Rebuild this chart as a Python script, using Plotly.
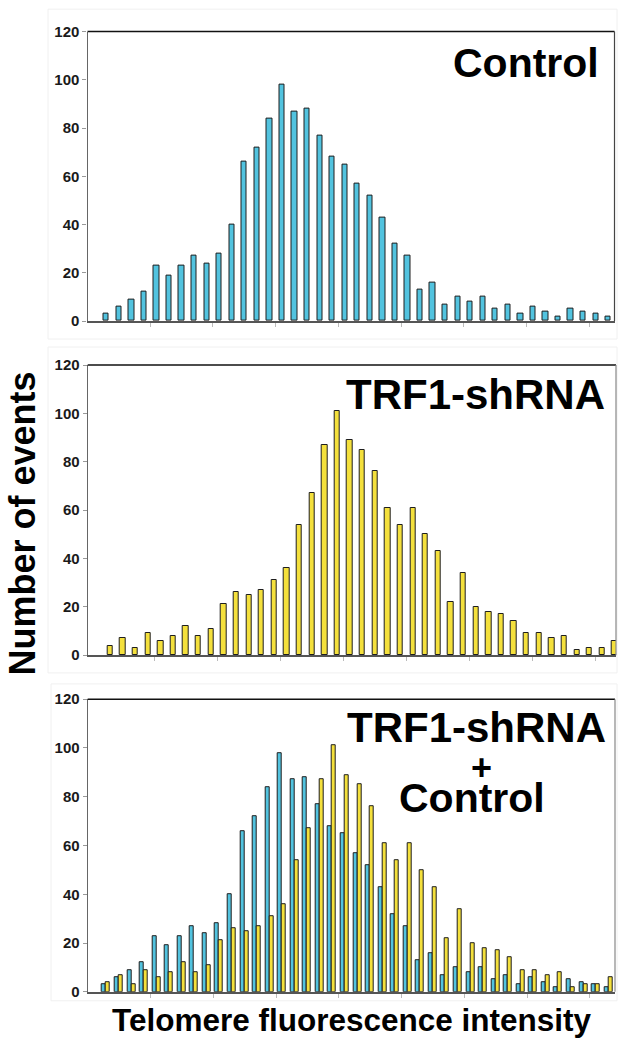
import plotly.graph_objects as go

# ---- data ----
bins = list(range(1, 42))
control = [3, 6, 9, 12, 23, 19, 23, 27, 24, 28, 40, 66, 72, 84, 98, 87, 88, 77, 68, 65,
           57, 52, 43, 32, 27, 13, 16, 7, 10, 8, 10, 5, 7, 3, 6, 4, 2, 5, 4, 3, 2]
trf1 = [4, 7, 3, 9, 6, 8, 12, 8, 11, 21, 26, 25, 27, 31, 36, 54, 67, 87, 101, 89,
        85, 76, 61, 54, 61, 50, 43, 22, 34, 20, 18, 17, 14, 9, 9, 7, 8, 2, 3, 3, 6]
y_ticks = [0, 20, 40, 60, 80, 100, 120]
x_ticks = [4.5, 9.5, 14.5, 19.5, 24.5, 29.5, 34.5, 39.5]

BLUE = "#52C3DF"
YELLOW = "#F4E03C"
EDGE = "#1e1e1e"
W, H = 618, 1042
# observed mapping of figure pixels to the photographed page: img_y = K * (fig_y + OFF)
K, OFF = 0.984, 8.0

fig = go.Figure()

# top: control
fig.add_trace(go.Bar(x=bins, y=control, width=0.42, marker=dict(color=BLUE, line=dict(color=EDGE, width=1)),
                     xaxis="x", yaxis="y", showlegend=False))
# middle: TRF1-shRNA
fig.add_trace(go.Bar(x=bins, y=trf1, width=0.42, marker=dict(color=YELLOW, line=dict(color=EDGE, width=1)),
                     xaxis="x2", yaxis="y2", showlegend=False))
# bottom: both
fig.add_trace(go.Bar(x=bins, y=control, width=0.32, offset=-0.35,
                     marker=dict(color=BLUE, line=dict(color=EDGE, width=1)),
                     xaxis="x3", yaxis="y3", showlegend=False))
fig.add_trace(go.Bar(x=bins, y=trf1, width=0.32, offset=-0.03,
                     marker=dict(color=YELLOW, line=dict(color=EDGE, width=1)),
                     xaxis="x3", yaxis="y3", showlegend=False))

def py(p):
    f = p / K - OFF
    v = 1 - f / H
    return min(max(v, 0.0), 1.0)

def px_(p):
    return p / W

panels = [
    # (xname, yname, x0, x1, ytop, ybot, xrange)
    ("xaxis", "yaxis", 87.5, 614.5, 30.5, 320, [-0.5, 41.5]),
    ("xaxis2", "yaxis2", 87.7, 616, 364, 654.3, [-0.78, 41.1]),
    ("xaxis3", "yaxis3", 87.7, 615, 698.3, 991, [-0.5, 41.5]),
]

tickfont = dict(family="Liberation Sans Narrow, Arial Narrow, Liberation Sans, Arial", size=15, color="#1a1a1a",
                weight="bold")
layout = {}
shapes = []
for i, (xn, yn, x0, x1, yt, yb, xr) in enumerate(panels):
    suffix = "" if i == 0 else str(i + 1)
    layout[xn] = dict(domain=[px_(x0), px_(x1)], range=xr, anchor="y" + suffix,
                      tickvals=x_ticks, ticktext=[""] * len(x_ticks), ticks="outside",
                      ticklen=4, tickcolor="#bbbbbb", showgrid=False, zeroline=False,
                      showline=True, linecolor="#555555", linewidth=1.5, fixedrange=True)
    layout[yn] = dict(domain=[py(yb), py(yt)], range=[0, 120], anchor="x" + suffix,
                      tickvals=y_ticks, ticks="outside", ticklen=4, tickcolor="#999999",
                      tickfont=tickfont, showgrid=False, zeroline=False,
                      showline=True, linecolor="#666666", linewidth=1.2, fixedrange=True)
    # top border (black) and right border
    shapes.append(dict(type="line", xref="paper", yref="paper", x0=px_(x0), x1=px_(x1),
                       y0=py(yt), y1=py(yt), line=dict(color="#111111", width=1.5)))
    shapes.append(dict(type="line", xref="paper", yref="paper", x0=px_(x1), x1=px_(x1),
                       y0=py(yt), y1=py(yb), line=dict(color="#444444" if i == 0 else "#888888", width=1.2)))

# faint outer frames of each pasted panel
for (fx0, fy0, fx1, fy1) in [(48, 8, 617, 338), (48, 346, 617, 672), (51, 683, 617, 1000)]:
    shapes.append(dict(type="rect", xref="paper", yref="paper", x0=px_(fx0), x1=px_(fx1),
                       y0=py(fy1), y1=py(fy0), line=dict(color="#f0f0f0", width=1), layer="below"))

big = dict(family="Liberation Sans, Arial, sans-serif", size=41, color="#000000")
annotations = [
    dict(text="<b>Control</b>", x=px_(601), y=py(62), xref="paper", yref="paper",
         xanchor="right", yanchor="middle", showarrow=False, font=big),
    dict(text="<b>TRF1-shRNA</b>", x=px_(607), y=py(393), xref="paper", yref="paper",
         xanchor="right", yanchor="middle", showarrow=False, font=dict(big, size=42)),
    dict(text="<b>TRF1-shRNA</b>", x=px_(476), y=py(727), xref="paper", yref="paper",
         xanchor="center", yanchor="middle", showarrow=False, font=dict(big, size=42)),
    dict(text="<b>+</b>", x=px_(481.7), y=py(767), xref="paper", yref="paper",
         xanchor="center", yanchor="middle", showarrow=False, font=dict(big, size=36)),
    dict(text="<b>Control</b>", x=px_(472), y=py(797), xref="paper", yref="paper",
         xanchor="center", yanchor="middle", showarrow=False, font=big),
    dict(text="<b>Number of events</b>", x=px_(22.5), y=py(523), xref="paper", yref="paper",
         xanchor="center", yanchor="middle", textangle=-90, showarrow=False,
         font=dict(family="Liberation Sans, Arial, sans-serif", size=36, color="#000000")),
    dict(text="<b>Telomere fluorescence intensity</b>", x=px_(352), y=py(1019), xref="paper", yref="paper",
         xanchor="center", yanchor="middle", showarrow=False,
         font=dict(family="Liberation Sans, Arial, sans-serif", size=31.5, color="#000000")),
]

fig.update_layout(width=W, height=H, margin=dict(l=0, r=0, t=0, b=0),
                  paper_bgcolor="white", plot_bgcolor="white",
                  barmode="overlay", bargap=0, shapes=shapes, annotations=annotations, **layout)

post = ("document.documentElement.style.margin='0';document.body.style.margin='0';"
        "document.body.style.padding='0';document.documentElement.style.overflow='hidden';"
        "document.body.style.overflow='hidden';")

fig.write_html("out.html", config={"displayModeBar": False}, post_script=post)
